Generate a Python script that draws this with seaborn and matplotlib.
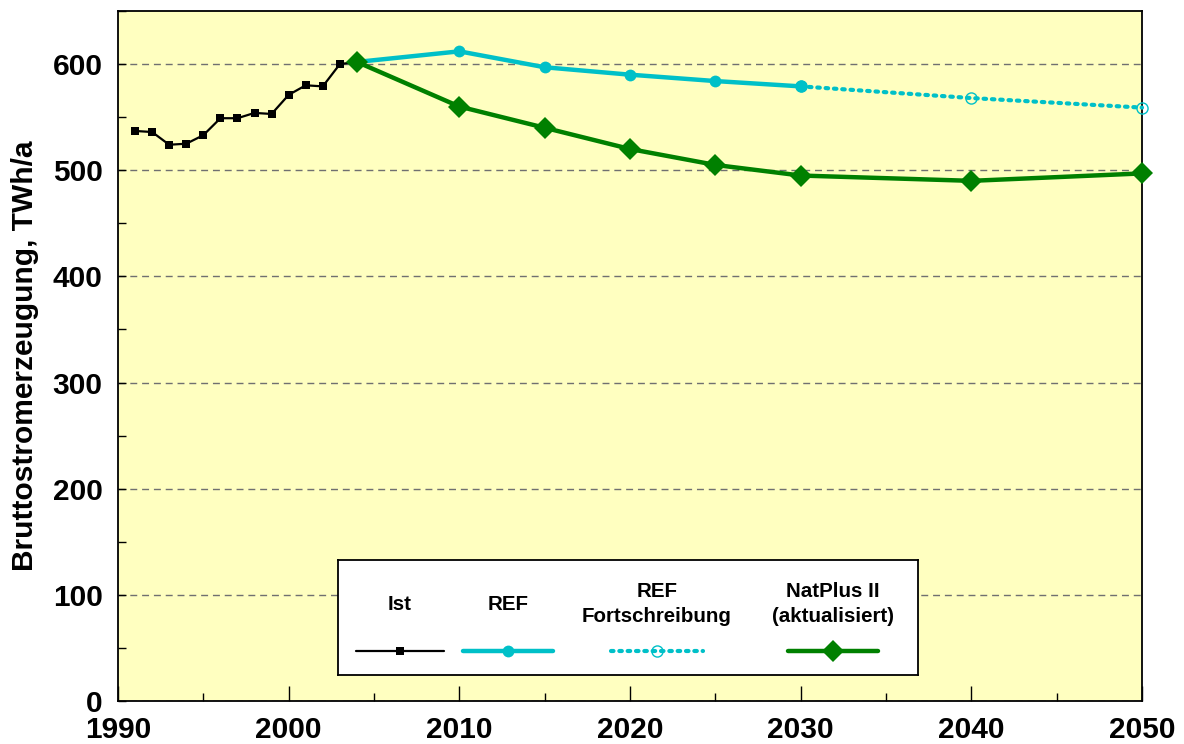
import pandas as pd
import matplotlib
matplotlib.use("Agg")
import matplotlib.pyplot as plt
from matplotlib.ticker import MultipleLocator
import seaborn as sns

# Daten (TWh/a)
ist_jahr = [1991, 1992, 1993, 1994, 1995, 1996, 1997, 1998, 1999, 2000, 2001, 2002, 2003, 2004]
ist_wert = [537, 536, 524, 525, 533, 549, 549, 554, 553, 571, 580, 579, 600, 602]

ref_jahr = [2004, 2010, 2015, 2020, 2025, 2030]
ref_wert = [602, 612, 597, 590, 584, 579]

fort_jahr = [2030, 2040, 2050]
fort_wert = [579, 568, 559]

nat_jahr = [2004, 2010, 2015, 2020, 2025, 2030, 2040, 2050]
nat_wert = [602, 560, 540, 520, 505, 495, 490, 497]

labels = ["Ist", "REF", "REF\nFortschreibung", "NatPlus II\n(aktualisiert)"]

cyan = "#00C0C8"
gruen = "#008000"

sns.set_style("ticks")
plt.rcParams["font.family"] = ["Liberation Sans", "DejaVu Sans"]
plt.rcParams["font.weight"] = "bold"
plt.rcParams["text.color"] = "black"
plt.rcParams["xtick.color"] = "black"
plt.rcParams["ytick.color"] = "black"
plt.rcParams["axes.labelcolor"] = "black"

fig = plt.figure(figsize=(11.84, 7.44), dpi=100)
ax = fig.add_axes([118 / 1184, 1 - 701 / 744, 1024 / 1184, 690 / 744])
ax.set_facecolor("#FFFFC0")

df_ist = pd.DataFrame({"Jahr": ist_jahr, "Wert": ist_wert})
df_ref = pd.DataFrame({"Jahr": ref_jahr, "Wert": ref_wert})
df_fort = pd.DataFrame({"Jahr": fort_jahr, "Wert": fort_wert})
df_nat = pd.DataFrame({"Jahr": nat_jahr, "Wert": nat_wert})

sns.lineplot(data=df_ist, x="Jahr", y="Wert", ax=ax, color="black", lw=1.6,
             marker="s", markersize=5.5, markeredgewidth=0, zorder=3, clip_on=False)
sns.lineplot(data=df_fort, x="Jahr", y="Wert", ax=ax, color=cyan, lw=3,
             linestyle=(0, (0.6, 1.4)), dash_capstyle="round", marker="o",
             markersize=8, markerfacecolor="none", markeredgecolor=cyan,
             markeredgewidth=1, zorder=3, clip_on=False)
sns.lineplot(data=df_ref, x="Jahr", y="Wert", ax=ax, color=cyan, lw=3.2,
             marker="o", markersize=8.5, markeredgewidth=0, zorder=4, clip_on=False)
sns.lineplot(data=df_nat, x="Jahr", y="Wert", ax=ax, color=gruen, lw=3.2,
             marker="D", markersize=11, markeredgewidth=0, zorder=5, clip_on=False)

ax.set_xlim(1990, 2050)
ax.set_ylim(0, 650)
ax.xaxis.set_major_locator(MultipleLocator(10))
ax.xaxis.set_minor_locator(MultipleLocator(5))
ax.yaxis.set_major_locator(MultipleLocator(100))
ax.yaxis.set_minor_locator(MultipleLocator(50))
ax.tick_params(which="major", direction="in", length=11, width=1, labelsize=21.5)
ax.tick_params(which="minor", direction="in", length=6, width=1)
ax.tick_params(axis="y", which="both", length=6, pad=11)
ax.tick_params(axis="x", pad=11)
for s in ax.spines.values():
    s.set_linewidth(1.3)
    s.set_color("black")

ax.grid(axis="y", which="major", color="#707070", linestyle=(0, (5, 3.5)), lw=1)
ax.set_axisbelow(True)
ax.set_xlabel("")
ax.set_ylabel("Bruttostromerzeugung, TWh/a", fontsize=21.5, fontweight="bold", labelpad=10)
for lab in ax.get_xticklabels() + ax.get_yticklabels():
    lab.set_fontweight("bold")

# Legende (eigener Kasten, Text über den Linien)
lg = fig.add_axes([338 / 1184, 1 - 675 / 744, 580 / 1184, 115 / 744])
lg.set_facecolor("white")
lg.set_xlim(0, 580)
lg.set_ylim(115, 0)
lg.set_xticks([])
lg.set_yticks([])
for s in lg.spines.values():
    s.set_linewidth(1.3)
    s.set_color("black")

mitten = [62, 170, 319, 495]
halb = [44, 45, 46, 45]
stile = [
    dict(color="black", lw=1.6, marker="s", markersize=5.5, markeredgewidth=0),
    dict(color=cyan, lw=3.2, marker="o", markersize=8.5, markeredgewidth=0),
    dict(color=cyan, lw=3, linestyle=(0, (0.6, 1.4)), dash_capstyle="round",
         marker="o", markersize=8, markerfacecolor="none", markeredgecolor=cyan,
         markeredgewidth=1),
    dict(color=gruen, lw=3.2, marker="D", markersize=11, markeredgewidth=0),
]
for m, h, lab, st in zip(mitten, halb, labels, stile):
    lg.plot([m - h, m + h], [91, 91], markevery=[], **st)
    lg.plot([m], [91], **st)
    lg.text(m, 44, lab, ha="center", va="center", fontsize=14.8, fontweight="bold",
            linespacing=1.45)

fig.savefig("out.png", dpi=100)
